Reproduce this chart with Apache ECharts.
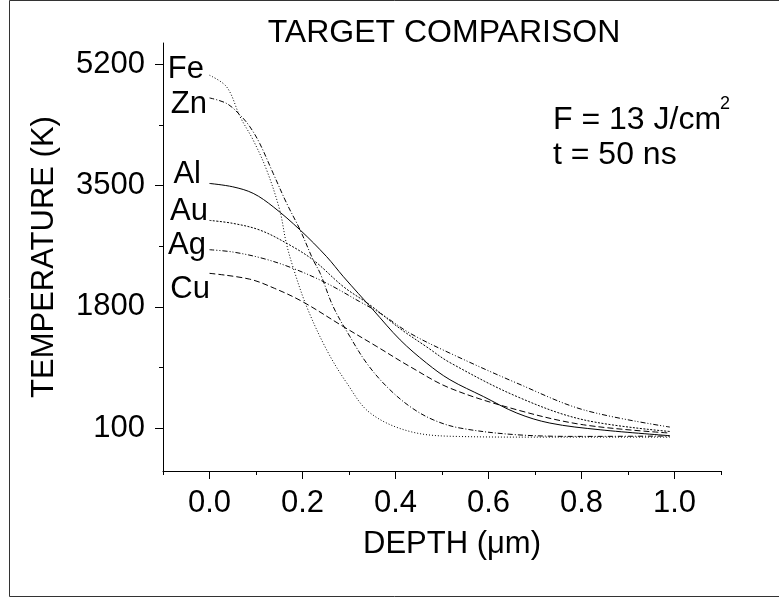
<!DOCTYPE html>
<html>
<head>
<meta charset="utf-8">
<script src="https://cdn.jsdelivr.net/npm/echarts@6/dist/echarts.min.js"></script>
<style>
  html, body { margin: 0; padding: 0; background: #fff; }
  #chart { width: 779px; height: 600px; }
</style>
</head>
<body>
<div id="chart"></div>
<script>
var FONT = '"Liberation Sans", Arial, sans-serif'

// axis ticks
var yMajor = [100, 1800, 3500, 5200]
var yMinor = [950, 2650, 4350]
var xMajor = [0, 0.2, 0.4, 0.6, 0.8, 1.0]
var xMinor = [-0.1, 0.1, 0.3, 0.5, 0.7, 0.9, 1.1]

// curves (depth in um, temperature in K)
var feDepth = [0, 0.037, 0.066, 0.094, 0.123, 0.151, 0.165, 0.18, 0.209, 0.252, 0.295, 0.345, 0.431, 0.537, 0.7, 0.99]
var feTemp  = [5048, 4884, 4464, 4138, 3718, 3158, 2700, 2350, 1804, 1198, 736, 316, 54, -16, -25, -25]

var znDepth = [0, 0.037, 0.066, 0.087, 0.108, 0.137, 0.166, 0.195, 0.223, 0.238, 0.266, 0.302, 0.338, 0.381, 0.431, 0.481, 0.539, 0.661, 0.8, 0.99]
var znTemp  = [4730, 4652, 4488, 4324, 4092, 3672, 3252, 2878, 2458, 2272, 1804, 1384, 1012, 684, 404, 218, 102, 8, -15, -10]

var alDepth = [0, 0.05, 0.094, 0.137, 0.195, 0.252, 0.288, 0.352, 0.41, 0.467, 0.517, 0.589, 0.661, 0.732, 0.84, 0.99]
var alTemp  = [3531, 3484, 3392, 3204, 2878, 2504, 2224, 1758, 1338, 1012, 780, 544, 312, 172, 78, -5]

var auDepth = [0, 0.05, 0.108, 0.166, 0.223, 0.288, 0.345, 0.409, 0.467, 0.517, 0.661, 0.804, 0.99]
var auTemp  = [3013, 2972, 2878, 2692, 2458, 2084, 1828, 1500, 1240, 1020, 544, 218, 54]

var agDepth = [0, 0.05, 0.115, 0.18, 0.252, 0.323, 0.367, 0.431, 0.517, 0.661, 0.804, 0.99]
var agTemp  = [2602, 2570, 2480, 2340, 2132, 1874, 1712, 1432, 1152, 732, 358, 116]

var cuDepth = [0, 0.086, 0.14, 0.2, 0.288, 0.36, 0.431, 0.517, 0.661, 0.804, 0.99]
var cuTemp  = [2271, 2190, 2060, 1874, 1524, 1244, 964, 662, 358, 148, 32]

function makeSeries (name, depth, temp, dash, offset) {
    var data = depth.map(function (d, i) { return [d, temp[i]] })
    data[0] = {
        value: data[0],
        label: {
            show: true,
            formatter: name,
            position: 'left',
            distance: 2,
            offset: offset,
            fontSize: 31,
            fontFamily: FONT,
            color: '#000'
        }
    }
    return {
        name: name,
        type: 'line',
        smooth: 0.35,
        symbol: 'circle',
        symbolSize: 1,
        showAllSymbol: true,
        itemStyle: { color: 'rgba(0,0,0,0)' },
        lineStyle: { color: '#000', width: 1, type: dash },
        label: { show: false },
        emphasis: { disabled: true },
        silent: true,
        data: data
    }
}

var chart = echarts.init(document.getElementById('chart'))

var option = {
    animation: false,
    title: {
        text: 'TARGET COMPARISON',
        left: 439,
        textAlign: 'center',
        top: 12,
        textStyle: { fontSize: 32, fontWeight: 'normal', fontFamily: FONT, color: '#000' }
    },
    grid: { left: 163, right: 58, top: 43, bottom: 129 },
    xAxis: [{
        type: 'value',
        min: -0.1,
        max: 1.1,
        name: 'DEPTH (\u03bcm)',
        nameLocation: 'middle',
        nameGap: 58,
        nameTextStyle: { fontSize: 31, fontFamily: FONT, color: '#000', padding: [0, 0, 0, 20] },
        axisLine: { show: true, onZero: false, lineStyle: { color: '#000', width: 1 } },
        axisTick: { show: true, length: 8, customValues: xMajor, lineStyle: { color: '#000' } },
        axisLabel: {
            customValues: xMajor,
            margin: 17,
            fontSize: 31,
            fontFamily: FONT,
            color: '#000',
            formatter: function (v) { return v.toFixed(1) }
        },
        splitLine: { show: false }
    }, {
        type: 'value',
        min: -0.1,
        max: 1.1,
        position: 'bottom',
        axisLine: { show: false, onZero: false },
        axisTick: { show: true, length: 4, customValues: xMinor, lineStyle: { color: '#000' } },
        axisLabel: { show: false, customValues: xMinor },
        splitLine: { show: false }
    }],
    yAxis: [{
        type: 'value',
        min: -500,
        max: 5500,
        name: 'TEMPERATURE (K)',
        nameLocation: 'middle',
        nameGap: 103,
        nameTextStyle: { fontSize: 31, fontFamily: FONT, color: '#000' },
        axisLine: { show: true, onZero: false, lineStyle: { color: '#000', width: 1 } },
        axisTick: { show: true, length: 8, customValues: yMajor, lineStyle: { color: '#000' } },
        axisLabel: {
            customValues: yMajor,
            margin: 18,
            fontSize: 31,
            fontFamily: FONT,
            color: '#000',
            formatter: function (v) { return String(v) }
        },
        splitLine: { show: false }
    }, {
        type: 'value',
        min: -500,
        max: 5500,
        position: 'left',
        axisLine: { show: false, onZero: false },
        axisTick: { show: true, length: 4, customValues: yMinor, lineStyle: { color: '#000' } },
        axisLabel: { show: false, customValues: yMinor },
        splitLine: { show: false }
    }],
    graphic: [{
        type: 'rect',
        silent: true,
        z: -10,
        shape: { x: 9.5, y: 0.5, width: 800, height: 596 },
        style: { fill: 'none', stroke: '#333', lineWidth: 1 }
    }, {
        type: 'text',
        left: 553,
        top: 104,
        style: { text: 'F = 13 J/cm', fontSize: 32, fontFamily: FONT, fill: '#000' }
    }, {
        type: 'text',
        left: 720,
        top: 95,
        style: { text: '2', fontSize: 18, fontFamily: FONT, fill: '#000' }
    }, {
        type: 'text',
        left: 553,
        top: 139,
        style: { text: 't = 50 ns', fontSize: 32, fontFamily: FONT, fill: '#000' }
    }],
    series: [
        makeSeries('Fe', feDepth, feTemp, [1, 2], [-3, -6]),
        makeSeries('Zn', znDepth, znTemp, [5, 2, 1, 2], [0, 7]),
        makeSeries('Al', alDepth, alTemp, 'solid', [-6, -9]),
        makeSeries('Au', auDepth, auTemp, [2, 1.5], [1, -9]),
        makeSeries('Ag', agDepth, agTemp, [5, 2, 1, 2, 1, 2], [-1, -4]),
        makeSeries('Cu', cuDepth, cuTemp, [6, 3], [3, 16])
    ]
}

chart.setOption(option)
</script>
</body>
</html>
